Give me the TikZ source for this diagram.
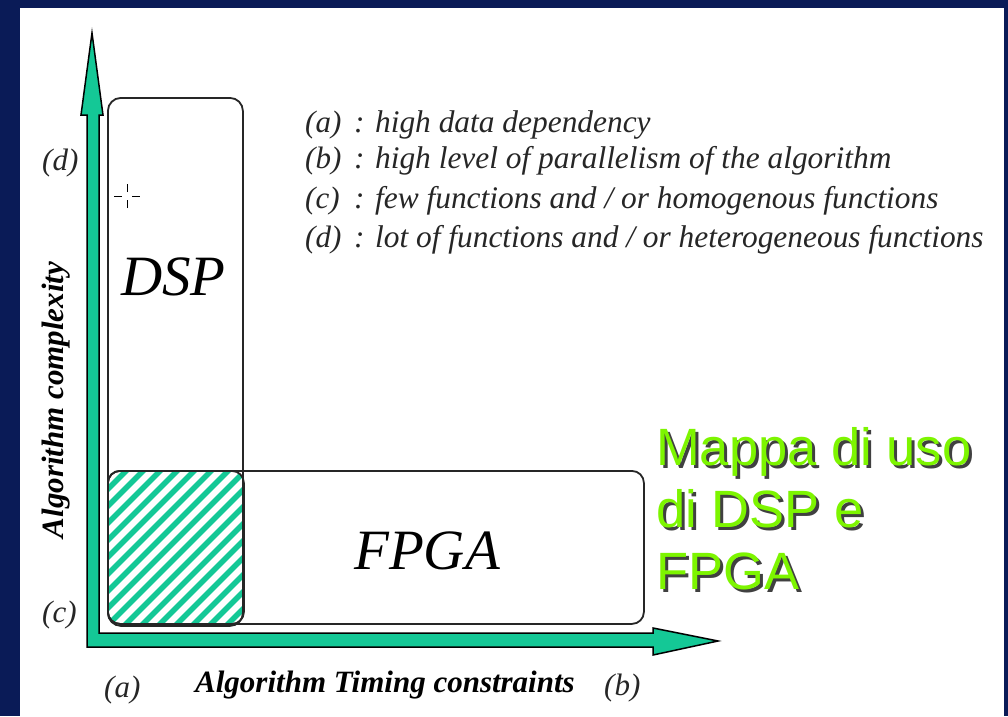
\documentclass[tikz,border=0pt]{standalone}
\usepackage{fontspec}
\setmainfont{Liberation Serif}
\newfontfamily\mapfont{Liberation Sans}
\newcommand{\shadowline}[1]{\leavevmode\rlap{\kern3pt\raisebox{-3pt}{\textcolor{black!75}{#1}}}\textcolor{mapgreen}{#1}}
\begin{document}
\begin{tikzpicture}[x=1pt,y=-1pt,
  box/.style={draw=black!85,line width=1.8pt,rounded corners=13pt,inner sep=0pt,anchor=north west},
  axisfill/.style={fill=axisgreen,draw=black,line width=1.5pt,line join=miter},
  legtag/.style={anchor=base west,font=\fontsize{31}{36}\selectfont\itshape,text=black!85,inner sep=0pt},
  legtxt/.style={anchor=base west,font=\fontsize{31.4}{36}\selectfont\itshape,text=black!85,inner sep=0pt},
  axlab/.style={font=\fontsize{31}{36}\selectfont\bfseries\itshape,inner sep=0pt},
  endlab/.style={anchor=base west,font=\fontsize{31}{36}\selectfont\itshape,text=black!85,inner sep=0pt},
  devlab/.style={anchor=base west,font=\fontsize{57}{62}\selectfont\itshape,inner sep=0pt},
  maptext/.style={anchor=north west,align=left,inner sep=0pt,
    font=\mapfont\fontsize{52.5}{62}\selectfont}]
\definecolor{navy}{RGB}{10,27,87}
\definecolor{axisgreen}{RGB}{20,200,150}
\definecolor{mapgreen}{RGB}{125,245,0}

\useasboundingbox (0,0) rectangle (1008,716);
\fill[navy] (0,0) rectangle (1008,716);
\fill[white] (20,8) rectangle (1004,716);

% hatched overlap region
\begin{scope}
  \clip[rounded corners=12pt] (107,470) rectangle (243,623);
  \foreach \k in {0,...,18}
    \draw[axisgreen,line width=5.5pt] (\k*17-60,640) -- ++(200,-200);
\end{scope}

% application boxes
\node[box,minimum width=135pt,minimum height=528pt] (dsp) at (107,97) {};
\node[box,rounded corners=12pt,minimum width=536pt,minimum height=153pt] (fpga) at (107,470) {};
\node[box,rounded corners=12pt,minimum width=136pt,minimum height=153pt] (both) at (107,470) {};

% axes
\draw[axisfill] (92,33) -- (103,115) -- (99,115) -- (99,633) -- (653,633) -- (653,628)
  -- (718,641) -- (653,655) -- (653,647) -- (87,647) -- (87,115) -- (81,115) -- cycle;

% cursor mark
\coordinate (cur) at (127,196);
\draw[black,line width=0.9pt] ([xshift=-13pt]cur) -- ([xshift=-5pt]cur)
  ([xshift=5pt]cur) -- ([xshift=13pt]cur)
  ([yshift=-12pt]cur) -- ([yshift=-4pt]cur)
  ([yshift=4pt]cur) -- ([yshift=12pt]cur);

% device labels
\node[devlab] (dsplab) at (121,295) {DSP};
\node[devlab] (fpgalab) at (354,569) {FPGA};

% axis labels
\node[endlab] (d) at (42,170) {(d)};
\node[endlab] (c) at (42,622) {(c)};
\node[endlab] (a) at (104,697) {(a)};
\node[endlab] (b) at (604,695) {(b)};
\node[axlab,anchor=base west] (xlab) at (195,692) {Algorithm Timing constraints};
\node[axlab,rotate=90,anchor=base] (ylab) at (63,400) {Algorithm complexity};

% legend
\node[legtag] (la) at (305,132) {(a)};
\node[legtxt] (ta) at (354,132) {: high data dependency};
\node[legtag] (lb) at (305,168) {(b)};
\node[legtxt] (tb) at (354,168) {: high level of parallelism of the algorithm};
\node[legtag] (lc) at (305,208) {(c)};
\node[legtxt] (tc) at (354,208) {: few functions and / or homogenous functions};
\node[legtag] (ld) at (305,247) {(d)};
\node[legtxt] (td) at (354,247) {: lot of functions and / or heterogeneous functions};

% title with drop shadow
\node[maptext] (map) at (656,427) {\shadowline{Mappa di uso}\\\shadowline{di DSP e}\\\shadowline{FPGA}};
\end{tikzpicture}
\end{document}
